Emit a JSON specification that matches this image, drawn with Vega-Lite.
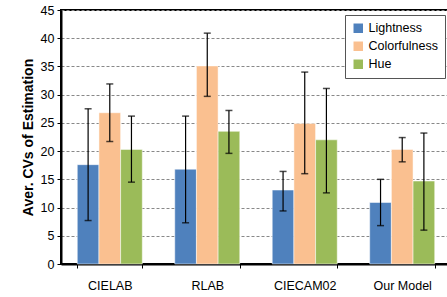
{
  "$schema": "https://vega.github.io/schema/vega-lite/v6.json",
  "width": 390,
  "height": 254,
  "autosize": {"type": "none"},
  "padding": {"left": 61, "top": 10, "right": 0, "bottom": 33},
  "background": "white",
  "config": {
    "font": "Liberation Sans",
    "view": {"stroke": "black", "strokeWidth": 2},
    "axis": {"labelColor": "black", "labelFont": "Liberation Sans", "labelFontSize": 12.5, "tickColor": "black", "domainColor": "black", "domainWidth": 2},
    "axisY": {
      "title": "Aver. CVs of Estimation", "titleFontSize": 14, "titleFontWeight": "bold", "titleColor": "black", "titlePadding": 5,
      "labelOverlap": false, "labelBound": false, "labelFlush": false,
      "tickSize": 4, "labelPadding": 3,
      "grid": true, "gridColor": "#888888", "gridDash": [3, 2], "gridWidth": 1
    }
  },
  "data": {
    "values": [
      {"model": "CIELAB", "metric": "Lightness", "value": 17.6, "lo": 7.7, "hi": 27.5},
      {"model": "CIELAB", "metric": "Colorfulness", "value": 26.8, "lo": 21.7, "hi": 31.9},
      {"model": "CIELAB", "metric": "Hue", "value": 20.3, "lo": 14.5, "hi": 26.2},
      {"model": "RLAB", "metric": "Lightness", "value": 16.8, "lo": 7.3, "hi": 26.2},
      {"model": "RLAB", "metric": "Colorfulness", "value": 35.1, "lo": 29.7, "hi": 40.9},
      {"model": "RLAB", "metric": "Hue", "value": 23.5, "lo": 19.6, "hi": 27.2},
      {"model": "CIECAM02", "metric": "Lightness", "value": 13.1, "lo": 9.4, "hi": 16.4},
      {"model": "CIECAM02", "metric": "Colorfulness", "value": 24.9, "lo": 16.0, "hi": 34.0},
      {"model": "CIECAM02", "metric": "Hue", "value": 22.0, "lo": 12.6, "hi": 31.1},
      {"model": "Our Model", "metric": "Lightness", "value": 10.9, "lo": 6.8, "hi": 15.0},
      {"model": "Our Model", "metric": "Colorfulness", "value": 20.3, "lo": 18.1, "hi": 22.4},
      {"model": "Our Model", "metric": "Hue", "value": 14.7, "lo": 6.0, "hi": 23.2}
    ]
  },
  "encoding": {
    "x": {
      "field": "model", "type": "nominal",
      "sort": ["CIELAB", "RLAB", "CIECAM02", "Our Model"],
      "scale": {"paddingInner": 0.333, "paddingOuter": 0.167},
      "axis": {"title": null, "labelAngle": 0, "tickBand": "extent", "tickSize": 4, "labelPadding": 11, "domainWidth": 2, "labelOverlap": false}
    },
    "xOffset": {
      "field": "metric", "type": "nominal",
      "sort": ["Lightness", "Colorfulness", "Hue"],
      "scale": {"paddingInner": 0, "paddingOuter": 0}
    }
  },
  "layer": [
    {
      "mark": {"type": "bar", "stroke": "white", "strokeWidth": 0.5},
      "encoding": {
        "y": {
          "field": "value", "type": "quantitative",
          "scale": {"domain": [0, 45], "nice": false},
          "axis": {"title": "Aver. CVs of Estimation", "values": [0, 5, 10, 15, 20, 25, 30, 35, 40, 45]}
        },
        "color": {
          "field": "metric", "type": "nominal",
          "sort": ["Lightness", "Colorfulness", "Hue"],
          "scale": {"domain": ["Lightness", "Colorfulness", "Hue"], "range": ["#4F81BD", "#FAC090", "#9BBB59"]},
          "legend": {
            "title": null, "orient": "none", "legendX": 284, "legendY": 5,
            "symbolType": "square", "symbolSize": 90, "symbolStrokeWidth": 0,
            "labelFontSize": 12.5, "labelColor": "black", "labelFont": "Liberation Sans",
            "strokeColor": "#555555", "fillColor": "white", "padding": 7, "rowPadding": 5
          }
        }
      }
    },
    {
      "mark": {"type": "rule", "color": "black", "strokeWidth": 1.2},
      "encoding": {
        "y": {"field": "lo", "type": "quantitative", "axis": {"title": "Aver. CVs of Estimation", "values": [0, 5, 10, 15, 20, 25, 30, 35, 40, 45]}},
        "y2": {"field": "hi"}
      }
    },
    {
      "mark": {"type": "tick", "color": "black", "orient": "horizontal", "size": 7, "thickness": 1.5},
      "encoding": {"y": {"field": "lo", "type": "quantitative", "axis": {"title": "Aver. CVs of Estimation", "values": [0, 5, 10, 15, 20, 25, 30, 35, 40, 45]}}}
    },
    {
      "mark": {"type": "tick", "color": "black", "orient": "horizontal", "size": 7, "thickness": 1.5},
      "encoding": {"y": {"field": "hi", "type": "quantitative", "axis": {"title": "Aver. CVs of Estimation", "values": [0, 5, 10, 15, 20, 25, 30, 35, 40, 45]}}}
    }
  ]
}
